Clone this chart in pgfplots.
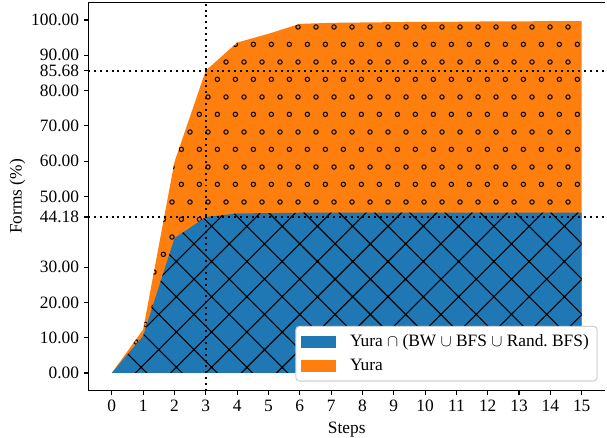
\documentclass[border=0pt]{standalone}
\usepackage{fontspec}
\setmainfont{Liberation Serif}
\usepackage{pgfplots}
\pgfplotsset{compat=1.18}
\usetikzlibrary{patterns}
\definecolor{mplblue}{HTML}{1F77B4}
\definecolor{mplorange}{HTML}{FF7F0E}

% crosshatch like matplotlib 'x'
\pgfdeclarepatternformonly{mplx}{\pgfqpoint{-1pt}{-1pt}}{\pgfqpoint{26.4pt}{26.4pt}}{\pgfqpoint{25.4pt}{25.4pt}}{%
  \pgfsetlinewidth{0.8pt}%
  \pgfpathmoveto{\pgfqpoint{-0.5pt}{-0.5pt}}\pgfpathlineto{\pgfqpoint{25.9pt}{25.9pt}}%
  \pgfpathmoveto{\pgfqpoint{-0.5pt}{25.9pt}}\pgfpathlineto{\pgfqpoint{25.9pt}{-0.5pt}}%
  \pgfusepath{stroke}}
% small circles like matplotlib 'o'
\pgfdeclarepatternformonly{mplo}{\pgfqpoint{0pt}{0pt}}{\pgfqpoint{12.7pt}{25.4pt}}{\pgfqpoint{12.7pt}{25.4pt}}{%
  \pgfsetlinewidth{0.75pt}%
  \pgfpathcircle{\pgfqpoint{3.2pt}{6.35pt}}{1.6pt}%
  \pgfpathcircle{\pgfqpoint{9.55pt}{19.05pt}}{1.6pt}%
  \pgfusepath{stroke}}

\newcommand{\lbl}{\fontsize{12.5}{15}\selectfont}

\begin{document}
\begin{tikzpicture}
\begin{axis}[
    at={(0,0)}, anchor=south west,
    scale only axis, width=372.2pt, height=279.6pt,
    xmin=-0.75, xmax=15.75, ymin=-5, ymax=105,
    separate axis lines,
    axis x line*=box, axis y line*=left,
    xtick pos=bottom, ytick pos=left,
    axis line style={line width=0.8pt},
    tick align=outside, major tick length=3.2pt,
    tick style={line width=0.8pt, black},
    xtick={0,1,...,15},
    ytick={0,10,20,30,44.18,50,60,70,80,85.68,90,100},
    yticklabels={0.00,10.00,20.00,30.00,44.18,50.00,60.00,70.00,80.00,85.68,90.00,100.00},
    ticklabel style={font=\lbl},
    xticklabel style={/pgf/number format/assume math mode=true},
    xlabel={Steps}, ylabel={Forms (\%)},
    label style={font=\lbl},
    xlabel style={at={(axis description cs:0.5,-0.1097)}, anchor=base},
    ylabel style={at={(axis description cs:-0.137,0.5)}, anchor=center},
    legend image code/.code={\fill[#1, draw=none, sharp corners] (0pt,-4.2pt) rectangle (25pt,4.2pt);},
    legend cell align=left,
    legend style={at={(1,0)}, anchor=south east, xshift=-5.4pt, yshift=6.5pt,
        font=\lbl, draw=black!18, fill=white, line width=0.8pt,
        rounded corners=2.5pt, row sep=3.5pt, inner xsep=4pt, inner ysep=4pt,
        /tikz/every odd column/.append style={column sep=8pt}},
]
% Yura
\addplot[forget plot, draw=none, fill=mplorange, postaction={pattern=mplo, pattern color=black}]
  coordinates {(0,0) (1,12.3) (2,59.8) (3,85.68) (4,93.6) (5,96.1) (6,98.9) (7,99.2)
    (8,99.3) (9,99.4) (10,99.5) (11,99.5) (12,99.6) (13,99.6) (14,99.7) (15,99.7)} \closedcycle;
% Yura cap (BW cup BFS cup Rand. BFS)
\addplot[forget plot, draw=none, fill=mplblue, postaction={pattern=mplx, pattern color=black}]
  coordinates {(0,0) (1,10.5) (2,38.2) (3,44.18) (4,45.2) (5,45.3) (6,45.4) (7,45.4)
    (8,45.4) (9,45.4) (10,45.4) (11,45.4) (12,45.4) (13,45.4) (14,45.4) (15,45.4)} \closedcycle;
% guide lines
\addplot[forget plot, black, line width=1.4pt, dash pattern=on 1.4pt off 2.8pt] coordinates {(3,-5) (3,105)};
\addplot[forget plot, black, line width=1.4pt, dash pattern=on 1.4pt off 2.8pt] coordinates {(-0.75,85.68) (15.75,85.68)};
\addplot[forget plot, black, line width=1.4pt, dash pattern=on 1.4pt off 2.8pt] coordinates {(-0.75,44.18) (15.75,44.18)};
\addlegendimage{fill=mplblue}
\addlegendentry{Yura $\cap$ (BW $\cup$ BFS $\cup$ Rand.\ BFS)}
\addlegendimage{fill=mplorange}
\addlegendentry{Yura}
\end{axis}
\pgfresetboundingbox
\path[use as bounding box] (-63.6pt,-34pt) rectangle (373.5pt,281.3pt);
\end{tikzpicture}
\end{document}
